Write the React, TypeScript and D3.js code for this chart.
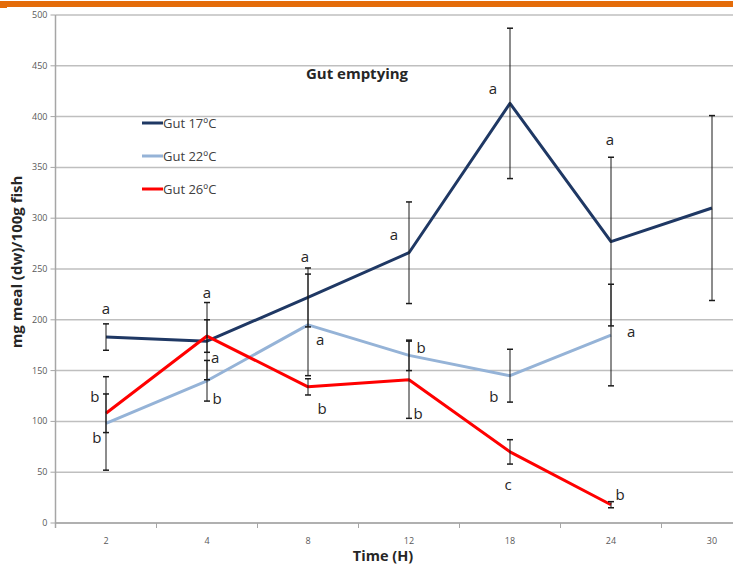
import React from "react";
import * as d3 from "d3";

const categories = ["2", "4", "8", "12", "18", "24", "30"];
const yTicks = [0, 50, 100, 150, 200, 250, 300, 350, 400, 450, 500];

const gut17 = [183, 179, 222, 266, 413, 277, 310];
const gut17Err = [13, 38, 29, 50, 74, 83, 91];
const gut22 = [98, 140, 195, 165, 145, 185];
const gut22Err = [46, 20, 50, 15, 26, 50];
const gut26 = [108, 184, 134, 141, 70, 18];
const gut26Err = [19, 16, 8, 38, 12, 3];

const seriesNames = ["Gut 17ºC", "Gut 22ºC", "Gut 26ºC"];
const seriesColors = ["#1F3864", "#95B3D7", "#FF0000"];

// letter annotations: category, anchor value, horizontal offset in band fractions, letter
const annCat = ["2", "2", "2", "4", "4", "4", "8", "8", "8", "12", "12", "12", "18", "18", "18", "24", "24", "24"];
const annVal = [211, 124, 84, 226, 162, 122, 262, 180, 112, 283, 172, 107, 427, 124, 37, 377, 188, 28];
const annDx = [0, -0.11, -0.09, 0, 0.08, 0.1, -0.03, 0.12, 0.14, -0.15, 0.12, 0.09, -0.17, -0.16, -0.02, -0.01, 0.2, 0.09];
const annText = ["a", "b", "b", "a", "a", "b", "a", "a", "b", "a", "b", "b", "a", "b", "c", "a", "a", "b"];

const W = 733;
const H = 569;
const plotLeft = 55.5;
const step = 101;
const plotTop = 15;
const plotBottom = 523;

export default function App() {
  const x = d3
    .scaleBand<string>()
    .domain(categories)
    .range([plotLeft, plotLeft + step * categories.length])
    .paddingInner(0)
    .paddingOuter(0);
  const y = d3.scaleLinear().domain([0, 500]).range([plotBottom, plotTop]);
  const cx = (c: string) => (x(c) as number) + x.bandwidth() / 2;

  const series = [
    { vals: gut17, errs: gut17Err },
    { vals: gut22, errs: gut22Err },
    { vals: gut26, errs: gut26Err },
  ];

  const line = d3
    .line<number>()
    .x((_, i) => cx(categories[i]))
    .y((d) => y(d));

  const font = "'Open Sans', 'Liberation Sans', sans-serif";

  return (
    <div style={{ position: "fixed", left: 0, top: 0 }}>
      <svg width={W} height={H} style={{ display: "block", background: "#fff" }}>
        <rect x={0} y={0} width={W} height={H} fill="#fff" />
        <rect x={0} y={1} width={W} height={6} fill="#E46C0A" />
        <rect x={0} y={1} width={7} height={7} fill="#E46C0A" />

        {yTicks.map((t) => (
          <g key={t}>
            <line x1={plotLeft} x2={W} y1={y(t)} y2={y(t)} stroke="#BFBFBF" strokeWidth={1.5} />
            <line x1={plotLeft - 5} x2={plotLeft} y1={y(t)} y2={y(t)} stroke="#A6A6A6" strokeWidth={1} />
            <text x={plotLeft - 8} y={y(t) + 3} textAnchor="end" fontSize={9} fill="#595959" fontFamily={font}>
              {t}
            </text>
          </g>
        ))}
        <line x1={plotLeft} x2={plotLeft} y1={plotTop} y2={plotBottom + 5} stroke="#A6A6A6" strokeWidth={1.5} />
        <line x1={plotLeft} x2={W} y1={plotBottom} y2={plotBottom} stroke="#A6A6A6" strokeWidth={1.5} />
        {categories.map((c, i) => (
          <g key={c}>
            {i > 0 && (
              <line x1={x(c)} x2={x(c)} y1={plotBottom} y2={plotBottom + 5} stroke="#A6A6A6" strokeWidth={1} />
            )}
            <text x={cx(c)} y={plotBottom + 21} textAnchor="middle" fontSize={9} fill="#595959" fontFamily={font}>
              {c}
            </text>
          </g>
        ))}

        {series.map((s, si) => (
          <path key={si} d={line(s.vals) || ""} fill="none" stroke={seriesColors[si]} strokeWidth={3} strokeLinejoin="round" />
        ))}

        {series.map((s, si) =>
          s.vals.map((v, i) => {
            const px = cx(categories[i]);
            const e = s.errs[i];
            return (
              <g key={`${si}-${i}`} stroke="#1a1a1a" strokeWidth={1}>
                <line x1={px} x2={px} y1={y(v + e)} y2={y(v - e)} />
                <line x1={px - 3} x2={px + 3} y1={y(v + e)} y2={y(v + e)} strokeWidth={1.5} />
                <line x1={px - 3} x2={px + 3} y1={y(v - e)} y2={y(v - e)} strokeWidth={1.5} />
              </g>
            );
          })
        )}

        {annText.map((t, i) => (
          <text
            key={i}
            x={cx(annCat[i]) + annDx[i] * step}
            y={y(annVal[i]) + 5}
            textAnchor="middle"
            fontSize={15}
            fill="#262626"
            fontFamily={font}
          >
            {t}
          </text>
        ))}

        {seriesNames.map((n, i) => (
          <g key={n}>
            <line x1={142} x2={163} y1={123 + i * 33} y2={123 + i * 33} stroke={seriesColors[i]} strokeWidth={3} />
            <text x={163} y={127.5 + i * 33} fontSize={13} fill="#404040" fontFamily={font}>
              {n}
            </text>
          </g>
        ))}

        <text x={357} y={79} textAnchor="middle" fontSize={15} fontWeight="bold" fill="#262626" fontFamily={font}>
          Gut emptying
        </text>
        <text x={383} y={561} textAnchor="middle" fontSize={14.5} fontWeight="bold" fill="#262626" fontFamily={font}>
          Time (H)
        </text>
        <text
          transform="translate(22,262) rotate(-90)"
          textAnchor="middle"
          fontSize={15}
          fontWeight="bold"
          fill="#262626"
          fontFamily={font}
        >
          mg meal (dw)/100g fish
        </text>
      </svg>
    </div>
  );
}
